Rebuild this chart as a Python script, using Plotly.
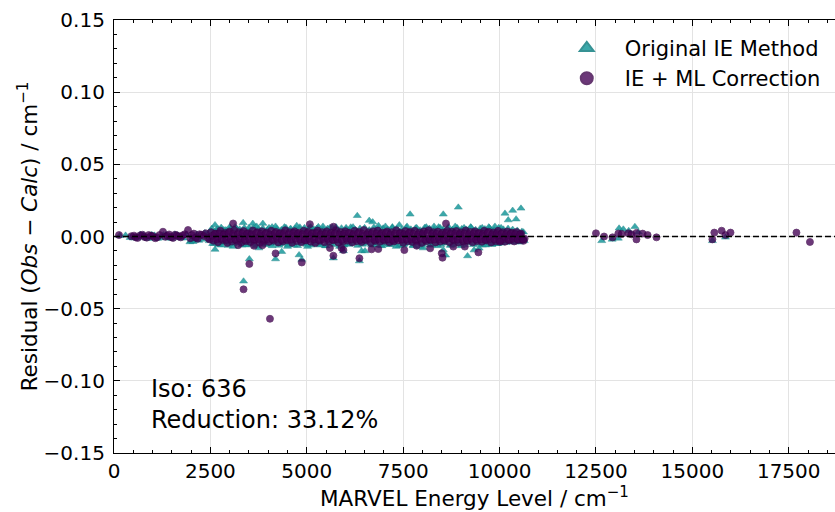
import plotly.graph_objects as go

# ---------------- data ----------------
# Original IE method residuals
orig_early_x = [150, 300, 420, 500, 600, 680, 760, 830, 900, 980, 1050, 1130, 1200, 1280, 1350, 1430, 1500,
                1580, 1650, 1730, 1800, 1880, 1970, 2000, 2050, 2100, 2150, 2200, 2280, 2350, 2420, 2470]
orig_early_y = [0.0005, 0.0008, -0.0008, -0.0012, -0.0012, 0.0014, 0.0010, -0.0010, -0.0015, 0.0012, 0.0008,
                -0.0014, -0.0010, 0.0010, 0.0012, -0.0012, -0.0014, 0.0015, 0.0010, -0.0010, -0.0012, 0.0013,
                -0.0038, -0.0030, -0.0036, -0.0025, 0.0015, -0.0028, -0.0020, 0.0025, 0.0018, -0.0030]
orig_up_x = [2540, 2660, 2780, 2900, 3020, 3140, 3260, 3380, 3500, 3620, 3740, 3860, 3980, 4100, 4220, 4340,
             4460, 4580, 4700, 4820, 4940, 5060, 5180, 5300, 5420, 5540, 5660, 5780, 5900, 6020, 6140, 6260,
             6380, 6500, 6620, 6740, 6860, 6980, 7100, 7220, 7340, 7460, 7580, 7700, 7820, 7940, 8060, 8180,
             8300, 8420, 8540, 8660, 8780, 8900, 9020, 9140, 9260, 9380, 9500, 9620, 9740, 9860, 9980, 10100,
             10220, 10340, 10460, 10580]
orig_up_y = [0.0055, 0.0048, 0.0062, 0.0045, 0.0058, 0.0066, 0.0050, 0.0060, 0.0044, 0.0063,
             0.0052, 0.0057, 0.0047, 0.0065, 0.0053, 0.0046, 0.0061, 0.0049, 0.0056, 0.0064,
             0.0045, 0.0059, 0.0051, 0.0067, 0.0048, 0.0055, 0.0062, 0.0046, 0.0058, 0.0050,
             0.0064, 0.0047, 0.0056, 0.0060, 0.0045, 0.0063, 0.0052, 0.0057, 0.0049, 0.0066,
             0.0053, 0.0046, 0.0061, 0.0050, 0.0058, 0.0044, 0.0062, 0.0055, 0.0048, 0.0065,
             0.0051, 0.0057, 0.0046, 0.0060, 0.0053, 0.0049, 0.0063, 0.0047, 0.0056, 0.0052,
             0.0059, 0.0045, 0.0061, 0.0050, 0.0055, 0.0048, 0.0042, 0.0035]
orig_low_x = [2600, 2720, 2840, 2960, 3080, 3200, 3320, 3440, 3560, 3680, 3800, 3920, 4040, 4160, 4280, 4400,
              4520, 4640, 4760, 4880, 5000, 5120, 5240, 5360, 5480, 5600, 5720, 5840, 5960, 6080, 6200, 6320,
              6440, 6560, 6680, 6800, 6920, 7040, 7160, 7280, 7400, 7520, 7640, 7760, 7880, 8000, 8120, 8240,
              8360, 8480, 8600, 8720, 8840, 8960, 9080, 9200, 9320, 9440, 9560, 9680, 9800, 9920, 10040, 10160,
              10280, 10400, 10520, 10640]
orig_low_y = [-0.0050, -0.0058, -0.0045, -0.0063, -0.0052, -0.0047, -0.0060, -0.0055, -0.0044, -0.0066,
              -0.0049, -0.0057, -0.0053, -0.0046, -0.0062, -0.0051, -0.0059, -0.0045, -0.0064, -0.0048,
              -0.0056, -0.0061, -0.0047, -0.0053, -0.0065, -0.0050, -0.0058, -0.0044, -0.0060, -0.0052,
              -0.0046, -0.0063, -0.0055, -0.0049, -0.0059, -0.0045, -0.0062, -0.0051, -0.0057, -0.0048,
              -0.0064, -0.0053, -0.0046, -0.0060, -0.0050, -0.0056, -0.0044, -0.0061, -0.0052, -0.0058,
              -0.0047, -0.0063, -0.0054, -0.0049, -0.0059, -0.0045, -0.0057, -0.0051, -0.0060, -0.0048,
              -0.0055, -0.0050, -0.0046, -0.0042, -0.0040, -0.0038, -0.0035, -0.0030]
orig_spread_x = [2500, 2560, 2620, 2620, 2700, 2780, 2850, 2920, 3000, 3090, 3180, 3260, 3350, 3420, 3500,
                 3600, 3600, 3700, 3760, 3860, 3940, 4020, 4100, 4190, 4190, 4280, 4350, 4420, 4500, 4580,
                 4660, 4740, 4800, 4870, 4940, 5020, 5100, 5180, 5260, 5340, 5420, 5500, 5600, 5690, 5760,
                 5850, 5950, 6020, 6100, 6200, 6310, 6365, 6420, 6510, 6620, 6710, 6780, 6860, 6950, 7040,
                 7130, 7220, 7320, 7400, 7500, 7600, 7680, 7760, 7850, 7940, 8020, 8100, 8200, 8300, 8400,
                 8460, 8540, 8540, 8600, 8680, 8760, 8850, 8930, 9000, 9080, 9170, 9250, 9340, 9470, 9550,
                 9640, 9720, 9800, 9880, 9960, 10040, 10140, 10225, 10340, 10430, 10555, 10500, 10620,
                 3510, 3360]
orig_spread_y = [0.0040, -0.0050, 0.0080, -0.0090, 0.0050, -0.0060, 0.0045, -0.0040, 0.0065, -0.0070, 0.0055,
                 -0.0045, 0.0095, -0.0060, 0.0060, 0.0090, -0.0055, 0.0070, -0.0080, 0.0090, -0.0050, 0.0060,
                 -0.0065, 0.0070, -0.0156, -0.0050, -0.0105, 0.0065, -0.0070, 0.0055, -0.0060, 0.0075, -0.0128,
                 -0.0160, 0.0060, -0.0070, 0.0065, -0.0050, 0.0055, -0.0060, 0.0070, -0.0065, 0.0060, -0.0150,
                 0.0065, -0.0070, -0.0100, 0.0060, -0.0055, 0.0065, 0.0144, -0.0170, -0.0100, -0.0100, 0.0110,
                 0.0100, -0.0060, 0.0075, -0.0065, 0.0070, -0.0055, 0.0060, -0.0070, 0.0080, -0.0060, 0.0070,
                 0.0154, -0.0065, 0.0060, -0.0070, -0.0080, 0.0065, -0.0060, 0.0070, -0.0065, 0.0060, 0.0154,
                 -0.0094, -0.0130, 0.0065, -0.0060, 0.0070, 0.0202, -0.0065, 0.0060, -0.0135, 0.0065, -0.0094,
                 -0.0082, 0.0060, -0.0060, 0.0065, -0.0055, 0.0070, -0.0050, 0.0060, 0.0160, 0.0114, 0.0180,
                 0.0120, 0.0195, -0.0040, 0.0030,
                 -0.0156, -0.0310]
orig_high_x = [12650, 12920, 13080, 13100, 13210, 13350, 13510, 13600, 15520, 15860]
orig_high_y = [-0.0030, -0.0020, -0.0013, 0.0057, 0.0050, 0.0040, 0.0068, 0.0030, -0.0030, -0.0006]

# IE + ML correction residuals
ml_early_x = [130, 450, 520, 560, 610, 680, 740, 790, 850, 900, 960, 1010, 1070, 1120, 1180, 1270, 1330, 1380,
              1430, 1480, 1530, 1580, 1630, 1680, 1730, 1780, 1840, 1920, 1980, 2020, 2070, 2120, 2170, 2220,
              2270, 2330, 2380, 2440, 2480]
ml_early_y = [0.0010, 0.0002, 0.0006, -0.0005, -0.0010, 0.0008, 0.0012, -0.0003, -0.0008, 0.0010, 0.0005,
              0.0002, -0.0012, -0.0006, 0.0010, 0.0033, -0.0002, 0.0005, 0.0014, -0.0004, -0.0010, 0.0012,
              0.0008, 0.0000, -0.0006, 0.0008, 0.0016, 0.0045, -0.0012, 0.0010, 0.0020, -0.0008, -0.0015,
              0.0015, 0.0012, 0.0003, 0.0022, -0.0010, -0.0020]
ml_a_x = [2520, 2640, 2760, 2880, 3000, 3120, 3240, 3360, 3480, 3600, 3720, 3840, 3960, 4080, 4200, 4320,
          4440, 4560, 4680, 4800, 4920, 5040, 5160, 5280, 5400, 5520, 5640, 5760, 5880, 6000, 6120, 6240,
          6360, 6480, 6600, 6720, 6840, 6960, 7080, 7200, 7320, 7440, 7560, 7680, 7800, 7920, 8040, 8160,
          8280, 8400, 8520, 8640, 8760, 8880, 9000, 9120, 9240, 9360, 9480, 9600, 9720, 9840, 9960, 10080,
          10200, 10320, 10440, 10560]
ml_a_y = [0.0030, 0.0020, 0.0040, 0.0025, 0.0035, 0.0045, 0.0030, 0.0038, 0.0022, 0.0042, 0.0030, 0.0036,
          0.0028, 0.0040, 0.0032, 0.0025, 0.0043, 0.0030, 0.0036, 0.0027, 0.0040, 0.0033, 0.0025, 0.0041,
          0.0030, 0.0036, 0.0028, 0.0044, 0.0031, 0.0037, 0.0026, 0.0040, 0.0032, 0.0045, 0.0029, 0.0036,
          0.0041, 0.0027, 0.0035, 0.0030, 0.0043, 0.0026, 0.0038, 0.0032, 0.0040, 0.0028, 0.0036, 0.0044,
          0.0030, 0.0034, 0.0027, 0.0040, 0.0033, 0.0038, 0.0029, 0.0042, 0.0031, 0.0036, 0.0026, 0.0040,
          0.0033, 0.0028, 0.0039, 0.0030, 0.0035, 0.0027, 0.0032, 0.0020]
ml_b_x = [2580, 2700, 2820, 2940, 3060, 3180, 3300, 3420, 3540, 3660, 3780, 3900, 4020, 4140, 4260, 4380,
          4500, 4620, 4740, 4860, 4980, 5100, 5220, 5340, 5460, 5580, 5700, 5820, 5940, 6060, 6180, 6300,
          6420, 6540, 6660, 6780, 6900, 7020, 7140, 7260, 7380, 7500, 7620, 7740, 7860, 7980, 8100, 8220,
          8340, 8460, 8580, 8700, 8820, 8940, 9060, 9180, 9300, 9420, 9540, 9660, 9780, 9900, 10020, 10140,
          10260, 10380, 10500, 10620]
ml_b_y = [-0.0030, -0.0040, -0.0025, -0.0045, -0.0035, -0.0028, -0.0042, -0.0033, -0.0038, -0.0026, -0.0044,
          -0.0031, -0.0037, -0.0029, -0.0041, -0.0034, -0.0027, -0.0043, -0.0032, -0.0039, -0.0028, -0.0036,
          -0.0045, -0.0030, -0.0040, -0.0033, -0.0026, -0.0042, -0.0035, -0.0029, -0.0041, -0.0032, -0.0038,
          -0.0027, -0.0044, -0.0031, -0.0036, -0.0029, -0.0040, -0.0034, -0.0027, -0.0043, -0.0032, -0.0038,
          -0.0030, -0.0045, -0.0033, -0.0028, -0.0041, -0.0035, -0.0030, -0.0039, -0.0026, -0.0042, -0.0034,
          -0.0029, -0.0040, -0.0032, -0.0037, -0.0028, -0.0041, -0.0033, -0.0030, -0.0036, -0.0027, -0.0034,
          -0.0025, -0.0030]
ml_c_x = [2550, 2690, 2830, 2970, 3110, 3250, 3390, 3530, 3670, 3810, 3950, 4090, 4230, 4370, 4510, 4650,
          4790, 4930, 5070, 5210, 5350, 5490, 5630, 5770, 5910, 6050, 6190, 6330, 6470, 6610, 6750, 6890,
          7030, 7170, 7310, 7450, 7590, 7730, 7870, 8010, 8150, 8290, 8430, 8570, 8710, 8850, 8990, 9130,
          9270, 9410, 9550, 9690, 9830, 9970, 10110, 10250, 10390, 10530, 10650]
ml_c_y = [0.0005, -0.0010, 0.0012, -0.0005, 0.0008, -0.0012, 0.0003, 0.0010, -0.0008, 0.0006, -0.0011,
          0.0009, -0.0004, 0.0012, -0.0009, 0.0004, 0.0010, -0.0012, 0.0006, -0.0003, 0.0011, -0.0008,
          0.0005, -0.0010, 0.0012, -0.0006, 0.0008, -0.0011, 0.0003, 0.0010, -0.0007, 0.0012, -0.0004,
          0.0007, -0.0010, 0.0005, 0.0011, -0.0009, 0.0002, 0.0009, -0.0012, 0.0006, -0.0005, 0.0010,
          -0.0008, 0.0004, 0.0012, -0.0010, 0.0007, -0.0003, 0.0009, -0.0011, 0.0005, 0.0010, -0.0006,
          0.0008, -0.0004, 0.0002, -0.0015]
ml_d_x = [2610, 2730, 2850, 2970, 3090, 3210, 3330, 3450, 3570, 3690, 3810, 3930, 4050, 4170, 4290, 4410,
          4530, 4650, 4770, 4890, 5010, 5130, 5250, 5370, 5490, 5610, 5730, 5850, 5970, 6090, 6210, 6330,
          6450, 6570, 6690, 6810, 6930, 7050, 7170, 7290, 7410, 7530, 7650, 7770, 7890, 8010, 8130, 8250,
          8370, 8490, 8610, 8730, 8850, 8970, 9090, 9210, 9330, 9450, 9570, 9690, 9810, 9930, 10050, 10170,
          10290, 10410, 10530]
ml_d_y = [0.0018, 0.0022, 0.0015, 0.0024, 0.0019, 0.0016, 0.0023, 0.0020, 0.0017, 0.0025,
          0.0018, 0.0021, 0.0015, 0.0023, 0.0019, 0.0022, 0.0016, 0.0024, 0.0020, 0.0017,
          0.0022, 0.0019, 0.0025, 0.0016, 0.0021, 0.0018, 0.0023, 0.0015, 0.0020, 0.0024,
          0.0017, 0.0022, 0.0019, 0.0016, 0.0023, 0.0021, 0.0018, 0.0025, 0.0015, 0.0020,
          0.0022, 0.0017, 0.0024, 0.0019, 0.0016, 0.0021, 0.0023, 0.0018, 0.0020, 0.0015,
          0.0024, 0.0019, 0.0022, 0.0017, 0.0021, 0.0016, 0.0023, 0.0020, 0.0018, 0.0025,
          0.0016, 0.0022, 0.0019, 0.0017, 0.0021, 0.0018, 0.0015]
ml_e_x = [2670, 2790, 2910, 3030, 3150, 3270, 3390, 3510, 3630, 3750, 3870, 3990, 4110, 4230, 4350, 4470,
          4590, 4710, 4830, 4950, 5070, 5190, 5310, 5430, 5550, 5670, 5790, 5910, 6030, 6150, 6270, 6390,
          6510, 6630, 6750, 6870, 6990, 7110, 7230, 7350, 7470, 7590, 7710, 7830, 7950, 8070, 8190, 8310,
          8430, 8550, 8670, 8790, 8910, 9030, 9150, 9270, 9390, 9510, 9630, 9750, 9870, 9990, 10110, 10230,
          10350, 10470, 10590]
ml_e_y = [-0.0020, -0.0016, -0.0024, -0.0018, -0.0022, -0.0015, -0.0025, -0.0019, -0.0021, -0.0017,
          -0.0023, -0.0018, -0.0020, -0.0016, -0.0024, -0.0019, -0.0022, -0.0015, -0.0021, -0.0025,
          -0.0017, -0.0020, -0.0023, -0.0018, -0.0016, -0.0022, -0.0019, -0.0024, -0.0015, -0.0021,
          -0.0018, -0.0025, -0.0020, -0.0016, -0.0023, -0.0017, -0.0021, -0.0019, -0.0024, -0.0015,
          -0.0022, -0.0018, -0.0020, -0.0025, -0.0016, -0.0023, -0.0019, -0.0021, -0.0017, -0.0024,
          -0.0015, -0.0020, -0.0022, -0.0018, -0.0025, -0.0016, -0.0021, -0.0019, -0.0023, -0.0017,
          -0.0020, -0.0024, -0.0018, -0.0022, -0.0016, -0.0021, -0.0019]
ml_out_x = [3090, 3220, 3360, 3510, 3630, 3850, 4045, 4190, 4870, 5080, 5600, 5690, 5690, 5900, 5950, 6365,
            6680, 6855, 7530, 7850, 8200, 8500, 8520, 8610, 8800, 9100, 9450, 10010, 10615]
ml_out_y = [0.0090, -0.0060, -0.0366, -0.0190, -0.0064, -0.0060, -0.0570, -0.0117, -0.0180, 0.0085, -0.0080,
            0.0068, -0.0133, -0.0080, -0.0094, -0.0151, -0.0089, -0.0087, -0.0094, -0.0064, -0.0082, -0.0116,
            -0.0147, 0.0090, -0.0070, -0.0070, -0.0110, -0.0036, -0.0020]
ml_high_x = [12500, 12710, 12930, 13080, 13170, 13340, 13420, 13550, 13710, 13550, 13840, 14070, 15520, 15570,
             15760, 15860, 15990, 17700, 18050]
ml_high_y = [0.0022, 0.0000, -0.0006, 0.0020, 0.0018, 0.0022, 0.0015, 0.0025, 0.0020, -0.0020, 0.0010, -0.0006,
             -0.0020, 0.0027, 0.0040, 0.0010, 0.0027, 0.0027, -0.0038]

x_ticks = [0, 2500, 5000, 7500, 10000, 12500, 15000, 17500]
y_ticks = [-0.15, -0.10, -0.05, 0.00, 0.05, 0.10, 0.15]
iso_label = "Iso: 636"
reduction_label = "Reduction: 33.12%"

orig_x = orig_early_x + orig_up_x + orig_low_x + orig_spread_x + orig_high_x
orig_y = orig_early_y + orig_up_y + orig_low_y + orig_spread_y + orig_high_y
ml_x = ml_early_x + ml_a_x + ml_b_x + ml_c_x + ml_d_x + ml_e_x + ml_out_x + ml_high_x
ml_y = ml_early_y + ml_a_y + ml_b_y + ml_c_y + ml_d_y + ml_e_y + ml_out_y + ml_high_y

# ---------------- figure ----------------
FONT = "DejaVu Sans, Liberation Sans, sans-serif"

fig = go.Figure()
fig.add_trace(go.Scatter(
    x=orig_x, y=orig_y, mode="markers", name="Original IE Method",
    marker=dict(symbol="triangle-up", size=7, color="#1a9a9c", opacity=0.85,
                line=dict(width=0.5, color="#137f82")),
))
fig.add_trace(go.Scatter(
    x=ml_x, y=ml_y, mode="markers", name="IE + ML Correction",
    marker=dict(symbol="circle", size=7, color="#440154", opacity=0.78,
                line=dict(width=0.8, color="#3a0148")),
))

fig.add_shape(type="line", xref="paper", yref="y", x0=0, x1=1, y0=0, y1=0,
              line=dict(color="black", width=1.5, dash="6px,3px"), layer="above")

fig.add_annotation(
    xref="paper", yref="paper", x=0.049, y=0.04, xanchor="left", yanchor="bottom",
    text=iso_label + "<br>" + reduction_label, showarrow=False, align="left",
    font=dict(family=FONT, size=24, color="black"),
)

fig.update_layout(
    width=835, height=512,
    margin=dict(l=114, r=0, t=20, b=59, autoexpand=False),
    paper_bgcolor="white", plot_bgcolor="white",
    font=dict(family=FONT, size=21, color="black"),
    showlegend=True,
    legend=dict(x=0.603, y=0.982, xanchor="left", yanchor="top",
                bgcolor="rgba(255,255,255,0)", borderwidth=0,
                font=dict(family=FONT, size=21, color="black"),
                itemsizing="constant", itemwidth=66, tracegroupgap=0),
)

fig.update_xaxes(
    range=[0, 18700], tickvals=x_ticks, tickformat="d", automargin=False,
    showline=True, linecolor="black", linewidth=1.2, mirror="ticks",
    ticks="inside", ticklen=6, tickwidth=1, tickcolor="black",
    showgrid=True, gridcolor="#e3e3e3", gridwidth=1, zeroline=False,
    minor=dict(ticks="inside", ticklen=3, tickwidth=0.8, tickcolor="black", dtick=500, showgrid=False),
    tickfont=dict(family=FONT, size=20, color="black"),
    title=dict(text="MARVEL Energy Level / cm<sup>\u22121</sup>",
               font=dict(family=FONT, size=21.5, color="black"), standoff=4),
)
fig.update_yaxes(
    range=[-0.15, 0.15], tickvals=y_ticks, tickformat=".2f", automargin=False,
    showline=True, linecolor="black", linewidth=1.2, mirror=False,
    ticks="inside", ticklen=6, tickwidth=1, tickcolor="black", ticklabelstandoff=4,
    showgrid=True, gridcolor="#e3e3e3", gridwidth=1, zeroline=False,
    minor=dict(ticks="inside", ticklen=3, tickwidth=0.8, tickcolor="black", dtick=0.01, showgrid=False),
    tickfont=dict(family=FONT, size=20, color="black"),
    title=dict(text="Residual (<i>Obs</i> \u2212 <i>Calc</i>) / cm<sup>\u22121</sup>",
               font=dict(family=FONT, size=21.5, color="black"), standoff=0),
)

fig.write_html("out.html", config={"displayModeBar": False},
               post_script="document.body.style.margin='0px';")
